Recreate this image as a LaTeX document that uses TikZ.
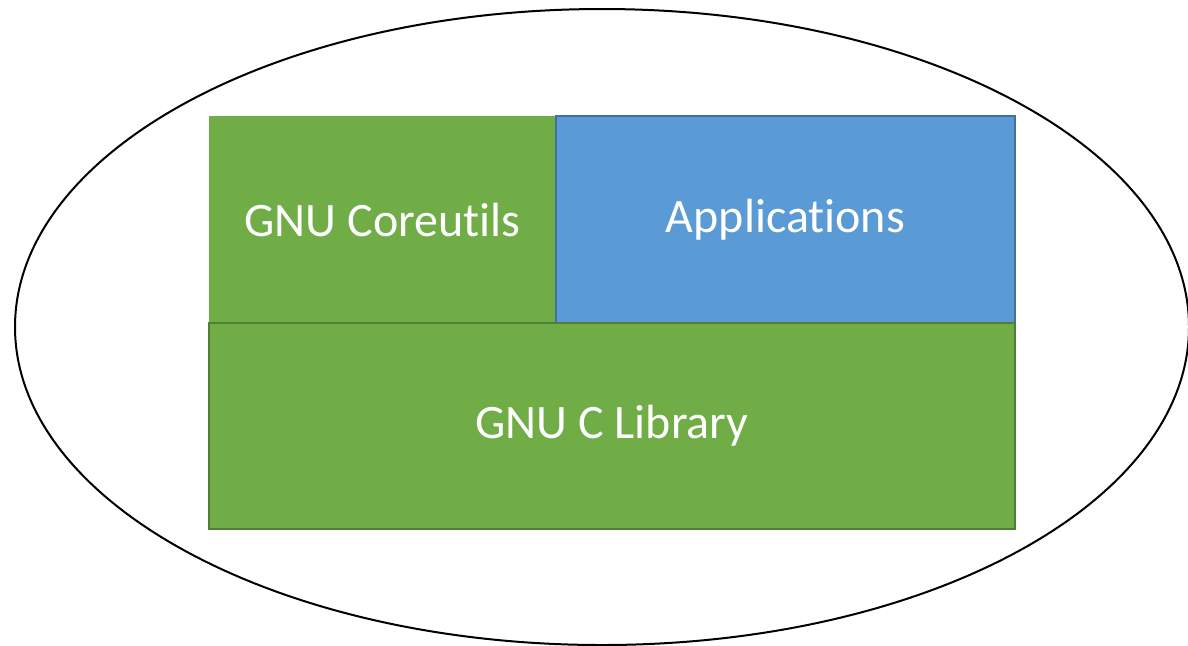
\documentclass[tikz,border=0pt]{standalone}
\usepackage{fontspec}
\setmainfont[Ligatures=NoCommon]{Carlito}
\definecolor{gnugreen}{HTML}{70AD47}
\definecolor{gnugreenline}{HTML}{507E32}
\definecolor{appblue}{HTML}{5B9BD5}
\definecolor{appblueline}{HTML}{41719C}
\begin{document}
\begin{tikzpicture}[x=0.5pt,y=-0.5pt,
  blockbox/.style={rectangle, inner sep=0pt, outer sep=0pt, font=\fontsize{24}{28}\selectfont, text=white},
  greenbox/.style={blockbox, fill=gnugreen},
  bluebox/.style={blockbox, fill=appblue, draw=appblueline, line width=1.2pt},
  libbox/.style={blockbox, fill=gnugreen, draw=gnugreenline, line width=1.2pt}]
\useasboundingbox (0,0) rectangle (1188,645);
\begin{scope}
\clip (0,0) rectangle (1188,645);
\draw[line width=1pt] (602,327) ellipse [x radius=293.5pt, y radius=159pt];
\end{scope}
\node[greenbox, minimum width=173.5pt, minimum height=103.5pt] (core) at (382.5,219.5) {GNU Coreutils};
\node[bluebox, minimum width=229.5pt, minimum height=103.5pt] (apps) at (785.5,219.5) {Applications};
\node[libbox, minimum width=403pt, minimum height=103pt] (lib) at (612,426) {GNU C Library};
\end{tikzpicture}
\end{document}
